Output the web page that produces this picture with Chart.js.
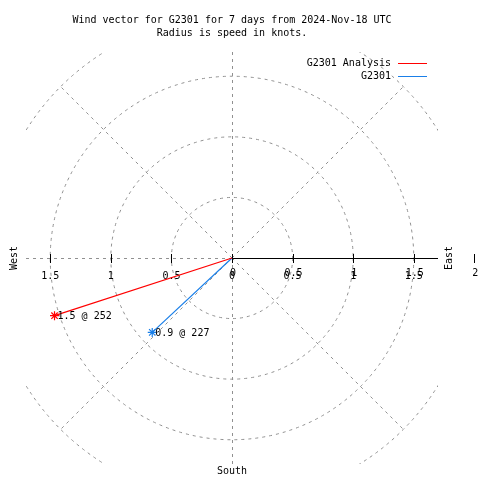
<!DOCTYPE html>
<html>
<head>
<meta charset="utf-8">
<title>Wind vector G2301</title>
<script src="https://cdn.jsdelivr.net/npm/chart.js@4.4.1/dist/chart.umd.min.js"></script>
<style>
body { margin: 0; background: #fff; }
canvas { display: block; }
</style>
</head>
<body>
<canvas id="windChart" width="480" height="480"></canvas>
<script>
var titleLines = ["Wind vector for G2301 for 7 days from 2024-Nov-18 UTC", "Radius is speed in knots."];
var seriesNames = ["G2301 Analysis", "G2301"];
var seriesColors = ["#ff0000", "#1a7fe8"];
var speeds = [1.54, 0.9];      // knots
var directions = [252, 227];   // degrees, clockwise from north
var ringRadii = [0.5, 1, 1.5, 2];
var spokeAngles = [0, 45, 90, 135, 180, 225, 270, 315];
var rightTicks = [0, 0.5, 1, 1.5, 2];
var leftTicks = [0.5, 1, 1.5];
var rMax = 1.7;

var FONT = "10px 'DejaVu Sans Mono', 'Liberation Mono', monospace";
var GRID = "#909090";

function toXY(speed, dir) {
    var a = dir * Math.PI / 180;
    return { x: speed * Math.sin(a), y: speed * Math.cos(a) };
}

var datasets = [];
for (var i = 0; i < seriesNames.length; i++) {
    datasets.push({
        label: seriesNames[i],
        data: [{ x: 0, y: 0 }, toXY(speeds[i], directions[i])],
        showLine: true,
        borderColor: seriesColors[i],
        backgroundColor: seriesColors[i],
        borderWidth: 1.2,
        pointStyle: 'star',
        pointRadius: [0, 4.5],
        pointBorderWidth: 1.2,
        pointBorderColor: seriesColors[i],
        clip: false
    });
}

var polarGrid = {
    id: 'polarGrid',
    beforeDatasetsDraw: function(chart) {
        var ctx = chart.ctx, area = chart.chartArea;
        var xs = chart.scales.x, ys = chart.scales.y;
        var cx = xs.getPixelForValue(0), cy = ys.getPixelForValue(0);
        var unit = xs.getPixelForValue(1) - cx;

        ctx.save();
        ctx.beginPath();
        ctx.rect(area.left, area.top, area.right - area.left, area.bottom - area.top);
        ctx.clip();
        ctx.strokeStyle = GRID;
        ctx.lineWidth = 1;
        ctx.setLineDash([3, 4]);
        ringRadii.forEach(function(r) {
            ctx.beginPath();
            ctx.arc(cx, cy, r * unit, 0, Math.PI * 2);
            ctx.stroke();
        });
        spokeAngles.forEach(function(d) {
            var p = toXY(ringRadii[ringRadii.length - 1], d);
            var ex = xs.getPixelForValue(p.x), ey = ys.getPixelForValue(p.y);
            // keep horizontal/vertical spokes on pixel centres
            var sx = (d % 180 === 0) ? Math.round(cx) + 0.5 : cx;
            var sy = (d % 180 === 90) ? Math.round(cy) + 0.5 : cy;
            if (d % 180 === 0) ex = sx;
            if (d % 180 === 90) ey = sy;
            ctx.beginPath();
            ctx.moveTo(sx, sy);
            ctx.lineTo(ex, ey);
            ctx.stroke();
        });
        ctx.restore();

        // radial axis towards east
        ctx.save();
        ctx.strokeStyle = "#000";
        ctx.lineWidth = 1;
        ctx.beginPath();
        ctx.moveTo(cx, Math.round(cy) + 0.5);
        ctx.lineTo(xs.getPixelForValue(rMax), Math.round(cy) + 0.5);
        ctx.stroke();
        var ticks = rightTicks.concat(leftTicks.map(function(v) { return -v; }));
        ticks.forEach(function(v) {
            var px = Math.round(xs.getPixelForValue(v)) + 0.5;
            ctx.beginPath();
            ctx.moveTo(px, cy - 4);
            ctx.lineTo(px, cy + 5);
            ctx.stroke();
        });
        ctx.font = FONT;
        ctx.fillStyle = "#000";
        ctx.textAlign = "center";
        ctx.textBaseline = "middle";
        rightTicks.forEach(function(v) {
            var px = xs.getPixelForValue(v);
            ctx.fillText(String(v), px + 1, cy + 15);
            if (v < 2) ctx.fillText(String(v), px, cy + 18);
        });
        leftTicks.forEach(function(v) {
            ctx.fillText(String(v), xs.getPixelForValue(-v), cy + 18);
        });
        ctx.restore();
    },
    afterDraw: function(chart) {
        var ctx = chart.ctx;
        var xs = chart.scales.x, ys = chart.scales.y;
        var cx = xs.getPixelForValue(0), cy = ys.getPixelForValue(0);

        ctx.save();
        ctx.font = FONT;
        ctx.fillStyle = "#000";
        ctx.textBaseline = "middle";

        // title
        ctx.textAlign = "center";
        ctx.fillText(titleLines[0], 232, 20);
        ctx.fillText(titleLines[1], 232, 33);

        // legend
        ctx.textAlign = "right";
        for (var i = 0; i < seriesNames.length; i++) {
            var ly = 63 + i * 13;
            ctx.fillStyle = "#000";
            ctx.fillText(seriesNames[i], 391, ly);
            ctx.strokeStyle = seriesColors[i];
            ctx.lineWidth = 1;
            ctx.beginPath();
            ctx.moveTo(398, ly + 0.5);
            ctx.lineTo(427, ly + 0.5);
            ctx.stroke();
        }

        // compass labels
        ctx.fillStyle = "#000";
        ctx.textAlign = "center";
        ctx.fillText("South", cx, 471);
        ctx.save();
        ctx.translate(14, cy);
        ctx.rotate(-Math.PI / 2);
        ctx.fillText("West", 0, 0);
        ctx.restore();
        ctx.save();
        ctx.translate(449, cy);
        ctx.rotate(-Math.PI / 2);
        ctx.fillText("East", 0, 0);
        ctx.restore();

        // value labels at vector tips
        ctx.textAlign = "left";
        for (var j = 0; j < speeds.length; j++) {
            var p = toXY(speeds[j], directions[j]);
            ctx.fillText(speeds[j].toFixed(1) + " @ " + directions[j],
                xs.getPixelForValue(p.x) + 3, ys.getPixelForValue(p.y) + 1);
        }
        ctx.restore();
    }
};

var config = {
    type: 'scatter',
    data: { datasets: datasets },
    options: {
        responsive: false,
        animation: false,
        layout: {
            padding: { left: 26, right: 42, top: 52, bottom: 16 }
        },
        plugins: {
            legend: { display: false },
            title: { display: false },
            tooltip: { enabled: false }
        },
        scales: {
            x: { type: 'linear', min: -rMax, max: rMax, display: false },
            y: { type: 'linear', min: -rMax, max: rMax, display: false }
        }
    },
    plugins: [polarGrid]
};

var ctx = document.getElementById("windChart").getContext("2d");
var windChart = new Chart(ctx, config);
</script>
</body>
</html>
